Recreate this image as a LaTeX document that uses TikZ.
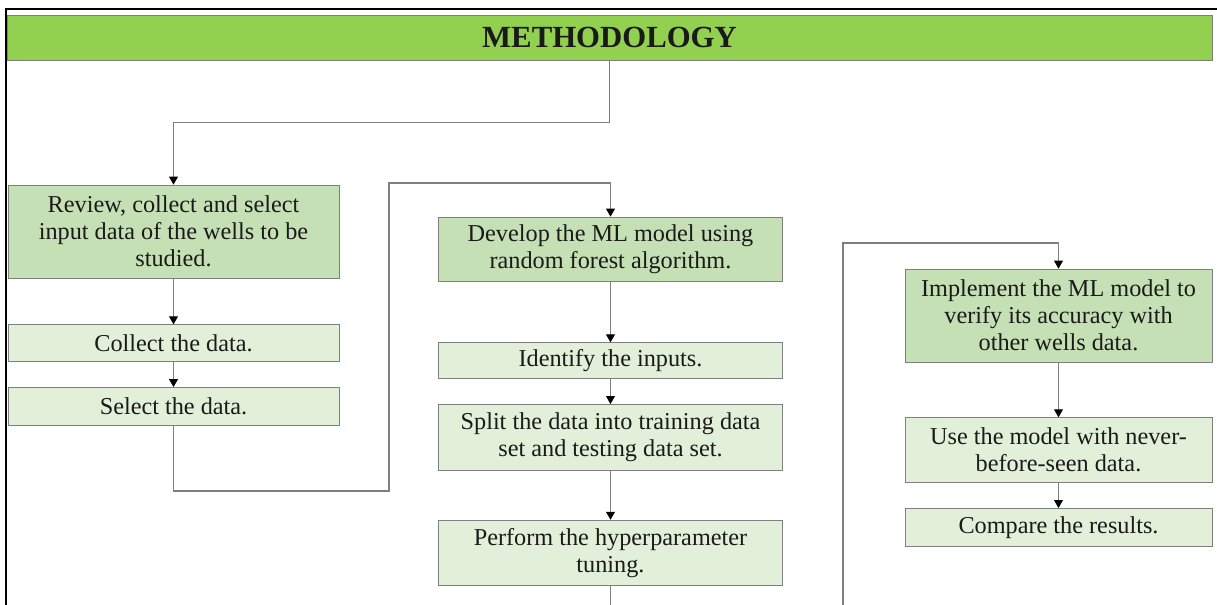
\documentclass[tikz,border=0pt]{standalone}
\usepackage{fontspec}
\setmainfont{Liberation Serif}
\usetikzlibrary{arrows.meta, positioning}
\definecolor{titlegreen}{HTML}{92D050}
\definecolor{stepdark}{HTML}{C5E0B4}
\definecolor{steplight}{HTML}{E2F0D9}
\definecolor{edge}{HTML}{7F7F7F}
\definecolor{ink}{HTML}{1A1A1A}

\begin{document}
\begin{tikzpicture}[
    every node/.style={font=\fontsize{13.8}{15.4}\selectfont, text=ink},
    box/.style={rectangle, draw=edge, fill=steplight, align=center,
                inner sep=0pt, minimum width=6.62cm},
    mainbox/.style={box, fill=stepdark},
    arrow/.style={-{Triangle[length=4.5pt, width=5pt, color=black]},
                  draw=edge, line width=0.6pt},
    link/.style={draw=edge, line width=0.6pt}
  ]
    \useasboundingbox (0,0) rectangle (24.34,-12.1);
    % frame
    \draw[line width=1.2pt] (0.12,-12.1) -- (0.12,-0.18) -- (24.34,-0.18);

    \node[draw=edge, fill=titlegreen, minimum width=24.1cm, minimum height=0.9cm,
          inner sep=0pt, font=\bfseries\fontsize{17.5}{20}\selectfont]
          (title) at (12.19,-0.75) {METHODOLOGY};

    % first column
    \node[mainbox, minimum height=1.86cm] (review) at (3.47,-4.63)
        {Review, collect and select\\input data of the wells to be\\studied.};
    \node[box, minimum height=0.74cm, below=0.92cm of review] (collect) {Collect the data.};
    \node[box, minimum height=0.76cm, below=0.5cm of collect] (select) {Select the data.};

    % second column
    \node[mainbox, minimum width=6.88cm, minimum height=1.28cm] (develop) at (12.21,-4.98)
        {Develop the ML model using\\random forest algorithm.};
    \node[box, minimum width=6.88cm, minimum height=0.72cm, below=1.22cm of develop]
        (identify) {Identify the inputs.};
    \node[box, minimum width=6.88cm, minimum height=1.32cm, below=0.5cm of identify]
        (split) {Split the data into training data\\set and testing data set.};
    \node[box, minimum width=6.88cm, minimum height=1.3cm, below=0.98cm of split]
        (tuning) {Perform the hyperparameter\\tuning.};

    % third column
    \node[mainbox, minimum width=6.14cm, minimum height=1.86cm] (implement) at (21.17,-6.31)
        {Implement the ML model to\\verify its accuracy with\\other wells data.};
    \node[box, minimum width=6.14cm, minimum height=1.3cm, below=1.1cm of implement]
        (reuse) {Use the model with never-\\before-seen data.};
    \node[box, minimum width=6.14cm, minimum height=0.76cm, below=0.5cm of reuse]
        (compare) {Compare the results.};

    \coordinate (turnA) at (7.78,-9.82);
    \coordinate (turnB) at (7.78,-3.66);
    \coordinate (nextA) at (tuning.south |- 0,-12.1);
    \coordinate (fromB) at (16.86,-12.1);
    \coordinate (turnC) at (16.86,-4.86);

    \draw[arrow] (title.south) -- ++(0,-1.24) -| (review.north);
    \draw[arrow] (review.south) -- (collect.north);
    \draw[arrow] (collect.south) -- (select.north);
    \draw[arrow] (select.south) |- (turnA) -- (turnB) -| (develop.north);
    \draw[arrow] (develop.south) -- (identify.north);
    \draw[arrow] (identify.south) -- (split.north);
    \draw[arrow] (split.south) -- (tuning.north);
    \draw[link] (tuning.south) -- (nextA);
    \draw[arrow] (fromB) -- (turnC) -| (implement.north);
    \draw[arrow] (implement.south) -- (reuse.north);
    \draw[arrow] (reuse.south) -- (compare.north);
  \end{tikzpicture}
\end{document}
